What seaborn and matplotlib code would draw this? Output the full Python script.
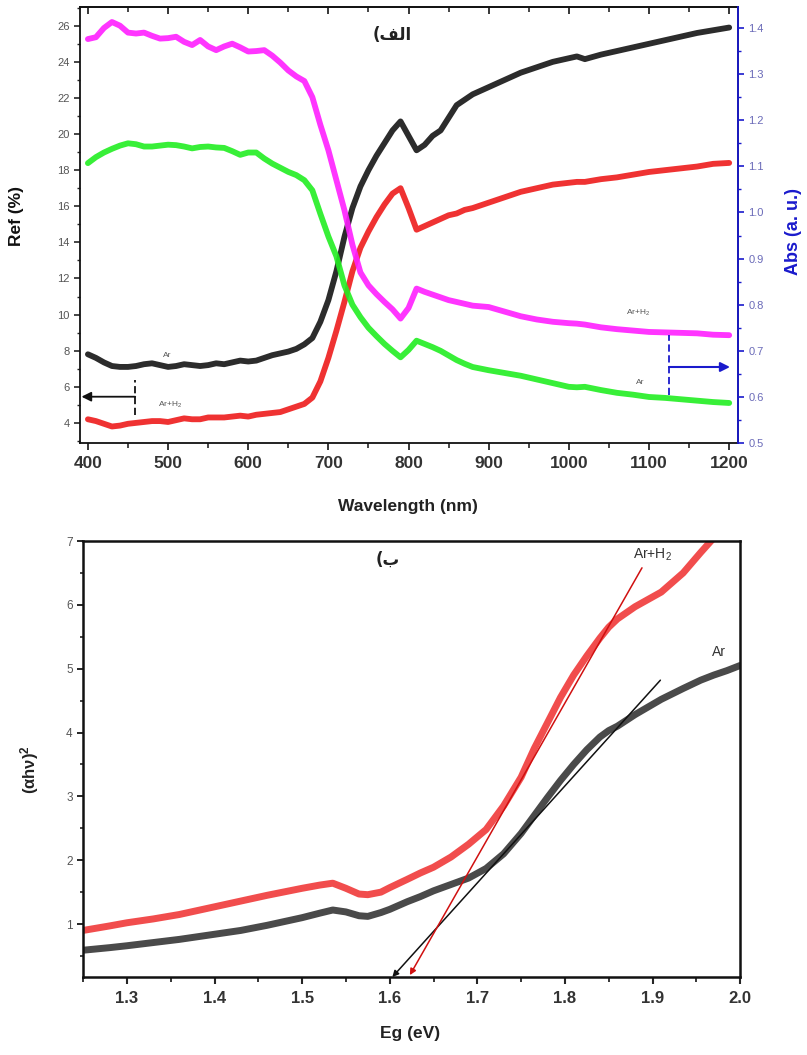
import numpy as np
import pandas as pd
import matplotlib
matplotlib.use("Agg")
import matplotlib.pyplot as plt
from matplotlib.ticker import MultipleLocator
import seaborn as sns

# ---------------- data: top panel ----------------
wavelength = [400, 410, 420, 430, 440, 450, 460, 470, 480, 490, 500, 510, 520, 530, 540, 550,
              560, 570, 580, 590, 600, 610, 620, 630, 640, 650, 660, 670, 680, 690, 700, 710,
              720, 730, 740, 750, 760, 770, 780, 790, 800, 810, 820, 830, 840, 850, 860, 870,
              880, 900, 920, 940, 960, 980, 1000, 1010, 1020, 1040, 1060, 1080, 1100, 1120,
              1140, 1160, 1180, 1200]
ref_ar = [7.8, 7.6, 7.35, 7.15, 7.1, 7.1, 7.15, 7.25, 7.3, 7.2, 7.1, 7.15, 7.25, 7.2, 7.15, 7.2,
          7.3, 7.25, 7.35, 7.45, 7.4, 7.45, 7.6, 7.75, 7.85, 7.95, 8.1, 8.35, 8.7, 9.6, 10.8, 12.4,
          14.3, 15.9, 17.1, 18.0, 18.8, 19.5, 20.2, 20.7, 19.9, 19.1, 19.4, 19.9, 20.2, 20.9, 21.6, 21.9,
          22.2, 22.6, 23.0, 23.4, 23.7, 24.0, 24.2, 24.3, 24.15, 24.4, 24.6, 24.8, 25.0, 25.2,
          25.4, 25.6, 25.75, 25.9]
ref_arh2 = [4.2, 4.1, 3.95, 3.8, 3.85, 3.95, 4.0, 4.05, 4.1, 4.1, 4.05, 4.15, 4.25, 4.2, 4.2, 4.3,
            4.3, 4.3, 4.35, 4.4, 4.35, 4.45, 4.5, 4.55, 4.6, 4.75, 4.9, 5.05, 5.4, 6.3, 7.6, 9.1,
            10.7, 12.4, 13.7, 14.6, 15.4, 16.1, 16.7, 17.0, 15.9, 14.7, 14.9, 15.1, 15.3, 15.5, 15.6, 15.8,
            15.9, 16.2, 16.5, 16.8, 17.0, 17.2, 17.3, 17.35, 17.35, 17.5, 17.6, 17.75, 17.9, 18.0,
            18.1, 18.2, 18.35, 18.4]
abs_arh2 = [1.376, 1.38, 1.40, 1.413, 1.405, 1.39, 1.388, 1.39, 1.383, 1.377, 1.378, 1.381, 1.37, 1.363, 1.374, 1.36,
            1.352, 1.36, 1.366, 1.358, 1.349, 1.35, 1.352, 1.34, 1.325, 1.308, 1.295, 1.285, 1.25, 1.19, 1.135, 1.07,
            1.005, 0.93, 0.87, 0.842, 0.823, 0.806, 0.79, 0.77, 0.793, 0.835, 0.828, 0.822, 0.816, 0.81, 0.806, 0.802,
            0.798, 0.795, 0.785, 0.775, 0.768, 0.763, 0.76, 0.759, 0.757, 0.751, 0.747, 0.744, 0.741, 0.74,
            0.739, 0.738, 0.735, 0.734]
abs_ar = [1.107, 1.12, 1.13, 1.138, 1.145, 1.15, 1.148, 1.143, 1.143, 1.145, 1.147, 1.146, 1.143, 1.139, 1.142, 1.143,
          1.141, 1.14, 1.133, 1.125, 1.13, 1.13, 1.117, 1.106, 1.097, 1.088, 1.081, 1.07, 1.048, 0.997, 0.948, 0.905,
          0.842, 0.8, 0.773, 0.75, 0.732, 0.715, 0.7, 0.686, 0.702, 0.722, 0.715, 0.708, 0.70, 0.69, 0.68, 0.672,
          0.665, 0.658, 0.652, 0.646, 0.638, 0.63, 0.622, 0.621, 0.622, 0.615, 0.609, 0.605, 0.60, 0.598,
          0.595, 0.592, 0.589, 0.587]

# ---------------- data: bottom panel ----------------
eg = [1.25, 1.28, 1.30, 1.33, 1.36, 1.40, 1.43, 1.46, 1.50, 1.52, 1.535, 1.55, 1.565, 1.575, 1.59, 1.60,
      1.62, 1.635, 1.65, 1.67, 1.69, 1.71, 1.73, 1.75, 1.765, 1.78, 1.795, 1.81, 1.825, 1.84, 1.85,
      1.86, 1.88, 1.91, 1.935, 1.955, 1.97, 1.985, 2.0]
ahv_ar = [0.59, 0.63, 0.66, 0.71, 0.76, 0.84, 0.9, 0.98, 1.10, 1.17, 1.22, 1.19, 1.13, 1.12, 1.18, 1.23,
          1.35, 1.43, 1.52, 1.62, 1.72, 1.87, 2.1, 2.42, 2.7, 2.98, 3.25, 3.5, 3.73, 3.93, 4.03,
          4.1, 4.28, 4.52, 4.69, 4.82, 4.9, 4.97, 5.05]
ahv_arh2 = [0.9, 0.97, 1.02, 1.08, 1.15, 1.27, 1.36, 1.45, 1.56, 1.61, 1.64, 1.56, 1.47, 1.46, 1.5, 1.57,
            1.7, 1.8, 1.89, 2.05, 2.25, 2.48, 2.85, 3.3, 3.75, 4.15, 4.55, 4.9, 5.2, 5.48, 5.65,
            5.78, 5.97, 6.2, 6.5, 6.82, 7.05, 7.3, 7.55]

# tangent (band gap extrapolation) lines: (x_top, y_top) -> (x_intercept, y_bottom)
tan_ar = [(1.909, 4.82), (1.603, 0.17)]
tan_arh2 = [(1.888, 6.58), (1.623, 0.20)]

# ---------------- style ----------------
sns.set_style("ticks")
plt.rcParams['font.family'] = ['Liberation Sans', 'DejaVu Sans']
plt.rcParams['mathtext.fontset'] = 'custom'
plt.rcParams['mathtext.rm'] = 'Liberation Sans'
plt.rcParams['mathtext.it'] = 'Liberation Sans:italic'
plt.rcParams['mathtext.bf'] = 'Liberation Sans:bold'

BLACK = '#151515'
RED = '#ee1c1c'
MAGENTA = '#ff1fff'
GREEN = '#22ee22'
BLUE = '#1a1acc'
TICKGRAY = '#555555'

fig = plt.figure(figsize=(8.07, 10.55), dpi=100)
ax = fig.add_axes([0.099, 0.580, 0.8155, 0.4134])
axr = ax.twinx()

top = pd.DataFrame({'wl': wavelength, 'ref_ar': ref_ar, 'ref_arh2': ref_arh2,
                    'abs_ar': abs_ar, 'abs_arh2': abs_arh2})

sns.lineplot(data=top, x='wl', y='ref_ar', ax=ax, color=BLACK, lw=4.2, alpha=0.9)
sns.lineplot(data=top, x='wl', y='ref_arh2', ax=ax, color=RED, lw=4.2, alpha=0.9)
sns.lineplot(data=top, x='wl', y='abs_arh2', ax=axr, color=MAGENTA, lw=4.2, alpha=0.9)
sns.lineplot(data=top, x='wl', y='abs_ar', ax=axr, color=GREEN, lw=4.2, alpha=0.9)

ax.set_xlim(390, 1211)
ax.set_ylim(2.88, 27.04)
axr.set_ylim(0.5, 1.4456)

ax.xaxis.set_major_locator(MultipleLocator(100))
ax.xaxis.set_minor_locator(MultipleLocator(50))
ax.yaxis.set_major_locator(MultipleLocator(2))
ax.yaxis.set_minor_locator(MultipleLocator(1))
axr.yaxis.set_major_locator(MultipleLocator(0.1))
axr.yaxis.set_minor_locator(MultipleLocator(0.05))
axr.yaxis.set_major_formatter(plt.FormatStrFormatter('%.1f'))

for s in ax.spines.values():
    s.set_linewidth(1.3)
    s.set_color('#111111')
axr.spines['right'].set_color(BLUE)
axr.spines['right'].set_linewidth(1.3)
for side in ['left', 'top', 'bottom']:
    axr.spines[side].set_visible(False)

ax.tick_params(axis='x', which='major', direction='out', length=5, width=1.3,
               labelsize=12.5, pad=4, labelcolor='#333333')
ax.tick_params(axis='x', which='minor', direction='out', length=3.5, width=1.2)
ax.tick_params(axis='y', which='major', direction='out', length=4, width=1.2,
               labelsize=8, labelcolor=TICKGRAY)
ax.tick_params(axis='y', which='minor', direction='out', length=2.5, width=1.0)
for lab in ax.get_xticklabels():
    lab.set_fontweight('bold')
axr.tick_params(axis='y', which='major', direction='out', length=4, width=1.2,
                colors=BLUE, labelsize=8, labelcolor='#6a6ab8')
axr.tick_params(axis='y', which='minor', direction='out', length=2.5, width=1.0, colors=BLUE)

secx = ax.secondary_xaxis('top')
secx.xaxis.set_major_locator(MultipleLocator(100))
secx.xaxis.set_minor_locator(MultipleLocator(50))
secx.tick_params(axis='x', which='major', direction='in', length=5, width=1.3, labeltop=False)
secx.tick_params(axis='x', which='minor', direction='in', length=3.5, width=1.2)
secx.spines['top'].set_linewidth(1.3)

ax.set_xlabel('Wavelength (nm)', fontsize=12.5, fontweight='bold', color='#222222')
ax.set_ylabel('Ref (%)', fontsize=12.5, fontweight='bold', color='#111111')
axr.set_ylabel('Abs (a. u.)', fontsize=13, fontweight='bold', color=BLUE)
ax.xaxis.set_label_coords(0.498, -0.128)
ax.yaxis.set_label_coords(-0.085, 0.52)
axr.yaxis.set_label_coords(1.071, 0.486)

# panel label (Arabic, presentation forms in visual order)
ax.text(780, 25.5, '(\uFED2\uFEDF\uFE8D', family=['DejaVu Sans'], fontsize=12,
        fontweight='bold', ha='center', va='center', color='#222222')

# small curve labels
ax.text(499, 7.75, 'Ar', fontsize=6, color='#555555', ha='center', va='center')
ax.text(502, 5.0, 'Ar+H$_2$', fontsize=6, color='#555555', ha='center', va='center')
ax.text(1087, 10.1, 'Ar+H$_2$', fontsize=6, color='#555555', ha='center', va='center')
ax.text(1089, 6.25, 'Ar', fontsize=6, color='#555555', ha='center', va='center')

# axis pointer arrows
ax.plot([459, 459], [4.45, 6.4], ls=(0, (4, 2)), color='#111111', lw=1.3)
ax.annotate('', xy=(392, 5.45), xytext=(459, 5.45),
            arrowprops=dict(arrowstyle='-|>', color='#111111', lw=1.3,
                            mutation_scale=14, shrinkA=0, shrinkB=0))
axr.plot([1125, 1125], [0.604, 0.734], ls=(0, (4, 2)), color=BLUE, lw=1.3)
axr.annotate('', xy=(1201, 0.665), xytext=(1125, 0.665),
             arrowprops=dict(arrowstyle='-|>', color=BLUE, lw=1.5,
                             mutation_scale=14, shrinkA=0, shrinkB=0))

# ---------------- bottom panel ----------------
bx = fig.add_axes([0.103, 0.0739, 0.8141, 0.4133])
bot = pd.DataFrame({'eg': eg, 'ar': ahv_ar, 'arh2': ahv_arh2})
sns.lineplot(data=bot, x='eg', y='arh2', ax=bx, color='#f03a3a', lw=5, alpha=0.9)
sns.lineplot(data=bot, x='eg', y='ar', ax=bx, color='#2a2a2a', lw=5, alpha=0.85)

bx.annotate('', xy=tan_ar[1], xytext=tan_ar[0],
            arrowprops=dict(arrowstyle='-|>', color='#111111', lw=1.1,
                            mutation_scale=9, shrinkA=0, shrinkB=0))
bx.annotate('', xy=tan_arh2[1], xytext=tan_arh2[0],
            arrowprops=dict(arrowstyle='-|>', color='#d01010', lw=1.1,
                            mutation_scale=9, shrinkA=0, shrinkB=0))

bx.set_xlim(1.25, 2.0)
bx.set_ylim(0.17, 7.0)
bx.xaxis.set_major_locator(MultipleLocator(0.1))
bx.xaxis.set_minor_locator(MultipleLocator(0.05))
bx.yaxis.set_major_locator(MultipleLocator(1))
bx.yaxis.set_minor_locator(MultipleLocator(0.5))
bx.xaxis.set_major_formatter(plt.FormatStrFormatter('%.1f'))
bx.yaxis.set_major_formatter(plt.FormatStrFormatter('%d'))
for s in bx.spines.values():
    s.set_linewidth(1.8)
    s.set_color('#111111')
bx.tick_params(axis='x', which='major', direction='out', length=5, width=1.5,
               labelsize=12, pad=5, labelcolor='#333333')
bx.tick_params(axis='x', which='minor', direction='out', length=3.5, width=1.3)
bx.tick_params(axis='y', which='major', direction='out', length=4, width=1.4,
               labelsize=8.5, labelcolor=TICKGRAY)
bx.tick_params(axis='y', which='minor', direction='out', length=2.5, width=1.2)
for lab in bx.get_xticklabels():
    lab.set_fontweight('bold')
bx.set_xlabel('Eg (eV)', fontsize=12.5, fontweight='bold', color='#222222')
bx.set_ylabel('(αhν)$^{\\mathbf{2}}$', fontsize=12, fontweight='bold', color='#222222')
bx.xaxis.set_label_coords(0.498, -0.112)
bx.yaxis.set_label_coords(-0.064, 0.475)

bx.text(1.598, 6.70, '(\uFE8F', family=['DejaVu Sans'], fontsize=12,
        fontweight='bold', ha='center', va='center', color='#222222')
bx.text(1.90, 6.78, 'Ar+H$_2$', fontsize=10, color='#333333', ha='center', va='center')
bx.text(1.976, 5.26, 'Ar', fontsize=10, color='#333333', ha='center', va='center')

fig.savefig('out.png', dpi=100, facecolor='white')
